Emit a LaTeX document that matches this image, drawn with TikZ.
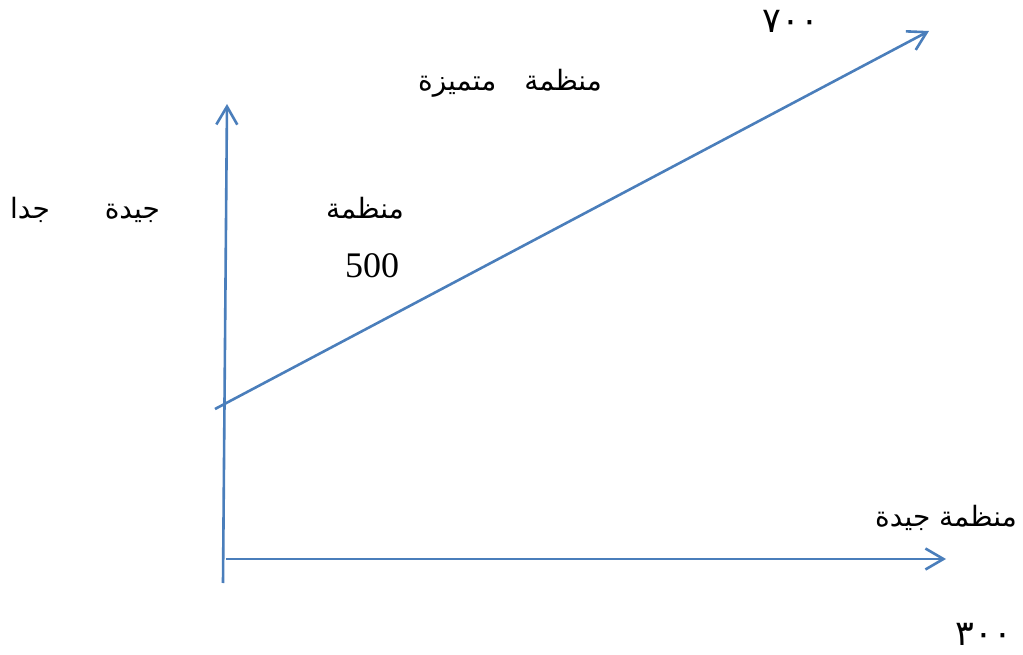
\documentclass[tikz,border=0pt]{standalone}
\usepackage{fontspec}
\setmainfont{Liberation Serif}
\newfontfamily\arabicfont[Script=Arabic]{DejaVu Sans}
\TeXXeTstate=1
\usetikzlibrary{arrows.meta}
\definecolor{axisblue}{RGB}{74,126,187}
\begin{document}
\begin{tikzpicture}[x=1pt,y=-1pt,
  axis/.style={draw=axisblue,line width=2.6pt,-{Straight Barb[length=18pt,width=21pt,line width=2.6pt]}},
  lbl/.style={inner sep=0pt,font=\arabicfont\fontsize{28}{32}\selectfont},
  dig/.style={inner sep=0pt,font=\arabicfont\fontsize{35}{38}\selectfont},
  num/.style={inner sep=0pt,font=\fontsize{36}{40}\selectfont}]
\useasboundingbox (0,0) rectangle (1023,655);
\coordinate (vs) at (223,583);
\coordinate (ve) at (227,104);
\coordinate (hs) at (226,559);
\coordinate (he) at (946,559);
\coordinate (ds) at (215,409);
\coordinate (de) at (929,31);
\draw[axis] (vs) -- (ve);
\draw[axis] (hs) -- (he);
\draw[axis] (ds) -- (de);
\node[dig] (t700) at (791,21) {٧٠٠};
\node[lbl] (tmut) at (510,83) {\beginR منظمة\hspace{28pt}متميزة\endR};
\node[lbl] (tjj) at (85,210) {\beginR جيدة\hspace{55pt}جدا\endR};
\node[lbl] (tmun) at (365,208) {\beginR منظمة\endR};
\node[num] (t500) at (372,266) {500};
\node[lbl] (tgood) at (946,518) {\beginR منظمة جيدة\endR};
\node[dig] (t300) at (984,634) {٣٠٠};
\end{tikzpicture}
\end{document}
